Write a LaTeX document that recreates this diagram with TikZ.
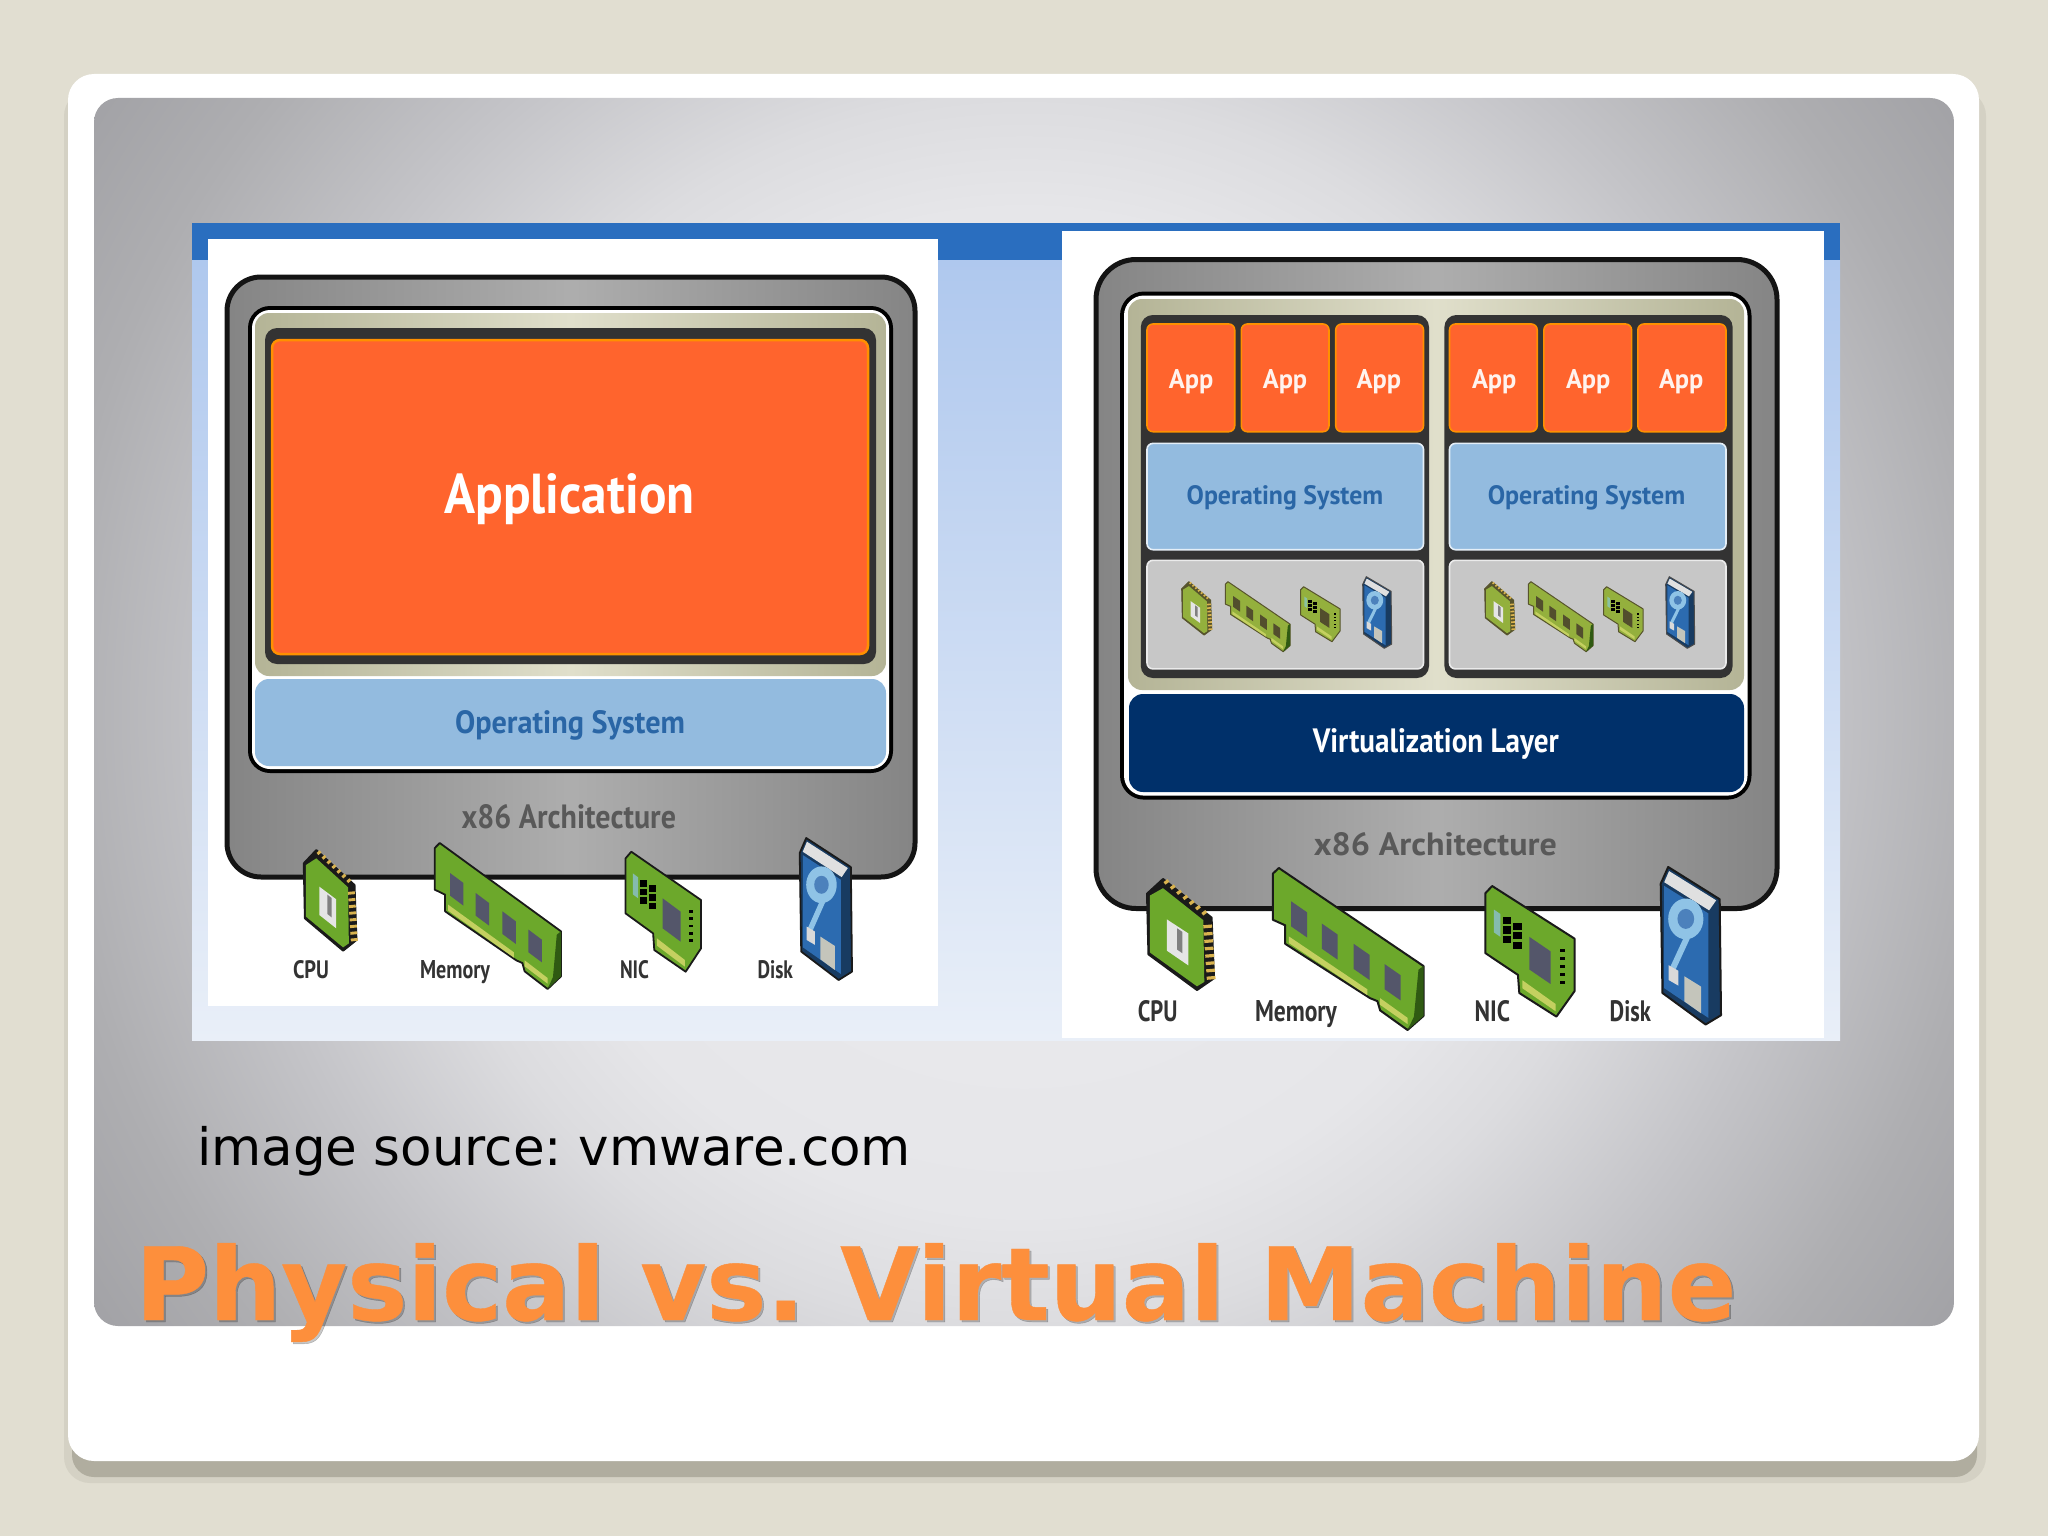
\documentclass[tikz,border=0pt]{standalone}
\usepackage{fontspec}
\usepackage{graphicx}
\newfontfamily\lblfont{PT Sans}
\newfontfamily\verd{DejaVu Sans}
\newfontfamily\titlefont[BoldFeatures={FakeBold=0.4}]{DejaVu Sans}
\frenchspacing
\definecolor{pagebg}{HTML}{E1DED1}
\definecolor{shadowA}{HTML}{D4D1C4}
\definecolor{shadowB}{HTML}{B0AD9F}
\definecolor{appor}{HTML}{FF642D}
\definecolor{apped}{HTML}{FF9000}
\definecolor{osblue}{HTML}{93BBDF}
\definecolor{ostext}{HTML}{2A66A6}
\definecolor{virt}{HTML}{00306A}
\definecolor{darkfr}{HTML}{333333}
\definecolor{titleor}{HTML}{FD8F3C}
\definecolor{pcb}{HTML}{6CA82B}
\definecolor{pcbd}{HTML}{2F5A12}
\definecolor{gold}{HTML}{D9B34F}
\definecolor{chipg}{HTML}{54566A}
\definecolor{contact}{HTML}{C4D060}
\definecolor{dblue}{HTML}{2C6BB0}
\definecolor{dlight}{HTML}{8FC3E6}
\definecolor{iconink}{HTML}{1A1A1A}
\definecolor{bandblue}{HTML}{2A6EBF}
\definecolor{skytop}{HTML}{AFC8EE}
\definecolor{skybot}{HTML}{E9EFF8}
\definecolor{oliveedge}{HTML}{B4B496}
\definecolor{olivemid}{HTML}{E0DFCB}
\definecolor{gZero}{HTML}{ECECEF}
\definecolor{gOne}{HTML}{E6E6E9}
\definecolor{gTwo}{HTML}{DCDCDF}
\definecolor{gThree}{HTML}{C4C4C8}
\definecolor{gFour}{HTML}{AEAEB1}
\definecolor{gFive}{HTML}{A2A2A6}
\pgfdeclareradialshading{panelglow}{\pgfpoint{0bp}{0bp}}{color(0bp)=(gZero); color(11.4bp)=(gOne); color(14bp)=(gTwo); color(18bp)=(gThree); color(22.1bp)=(gFour); color(25.3bp)=(gFive); color(50bp)=(gFive)}
\tikzset{
  lab/.style={inner sep=0pt,outer sep=0pt,anchor=base west},
  framegray/.style={draw=black!92,line width=5pt,left color=black!48,right color=black!48,middle color=black!32},
  oliveband/.style={left color=oliveedge,right color=oliveedge,middle color=olivemid},
  appbox/.style={fill=appor,draw=apped,rounded corners=6pt,line width=1.6pt},
  osbox/.style={fill=osblue,draw=white!75!osblue,rounded corners=6pt,line width=1.6pt},
  hwbox/.style={fill=black!22,draw=black!8,rounded corners=6pt,line width=1.6pt},
  iconline/.style={draw=iconink,line width=\iconlw,line join=round},
}
\newcommand{\lbl}[7]{\node[lab,text=#6] (#1) at (#2,#3) {\resizebox{#4pt}{#5pt}{\lblfont\bfseries #7}};}
\newcommand{\iconat}[8]{\begin{scope}[shift={(#4,#5)},xscale={(#6-#4)/#2},yscale={(#7-#5)/#3}]\def\iconlw{#8}#1\end{scope}}
\newcommand{\cpuicon}{\begin{scope}[shift={(-62,-60)}]
  \filldraw[iconline,fill=iconink] (62,100) -- (95,60) -- (195,165) -- (200,330) -- (165,362) -- (65,265) -- cycle;
  \fill[pcb] (68,105) -- (95,85) -- (178,172) -- (180,340) -- (165,352) -- (68,260) -- cycle;
  \foreach \i in {0,...,6}{\draw[gold,line width=1.6*\iconlw] ({98+\i*13},{72+\i*14}) -- ++(8,-8);}
  \foreach \i in {0,...,7}{\draw[gold,line width=1.6*\iconlw] ({178+\i*1},{190+\i*20}) -- ++(18,-2);}
  \fill[black!10] (103,170) -- (147,208) -- (147,295) -- (103,255) -- cycle;
  \fill[black!50] (124,194) -- (135,204) -- (135,262) -- (124,252) -- cycle;
\end{scope}}
\newcommand{\memicon}{\begin{scope}[shift={(-403,-40)}]
  \filldraw[iconline,fill=pcb] (405,55) -- (418,40) -- (735,305) -- (735,440) -- (700,478) -- (640,425) -- (634,400) -- (618,392) -- (432,245) -- (432,195) -- (405,180) -- cycle;
  \fill[pcbd] (724,315) -- (735,305) -- (735,440) -- (700,478) -- (714,442) -- cycle;
  \fill[contact] (440,225) -- (612,368) -- (612,384) -- (440,243) -- cycle;
  \fill[contact] (640,392) -- (700,445) -- (700,462) -- (640,410) -- cycle;
  \foreach \x/\y in {445/130,512/190,582/245,650/300}{
    \fill[chipg] (\x,\y) -- ({\x+35},{\y+30}) -- ({\x+35},{\y+98}) -- (\x,{\y+68}) -- cycle;}
\end{scope}}
\newcommand{\nicicon}{\begin{scope}[shift={(-900,-65)}]
  \filldraw[iconline,fill=pcb] (903,85) -- (918,65) -- (1100,210) -- (1100,355) -- (1060,425) -- (978,360) -- (975,310) -- (903,250) -- cycle;
  \fill[contact] (985,325) -- (1058,390) -- (1058,410) -- (985,347) -- cycle;
  \foreach \x/\s in {942/0,965/16}{\foreach \y in {150,176,202}{
    \fill[black] (\x,{\y+\s}) rectangle ++(18,20);}}
  \fill[chipg] (1000,205) -- (1047,245) -- (1047,335) -- (1000,295) -- cycle;
  \fill[dlight!70!pcb] (922,130) -- (936,142) -- (936,205) -- (922,193) -- cycle;
  \foreach \y in {240,262,284,306,328}{\fill[black] (1068,\y) rectangle ++(10,8);}
\end{scope}}
\newcommand{\diskicon}{\begin{scope}[shift={(-1358,-25)}]
  \filldraw[iconline,fill=black!45!dblue] (1358,70) -- (1375,25) -- (1492,112) -- (1495,425) -- (1460,450) -- (1362,365) -- cycle;
  \fill[black!12] (1377,36) -- (1484,115) -- (1468,142) -- (1366,66) -- cycle;
  \fill[dblue] (1366,76) -- (1466,150) -- (1466,432) -- (1366,352) -- cycle;
  \fill[dlight] (1415,165) ellipse [x radius=40,y radius=55];
  \fill[dblue!85!white] (1415,165) ellipse [x radius=19,y radius=27];
  \draw[dlight,line width=3*\iconlw] (1418,215) -- (1385,300);
  \fill[black!15] (1376,290) -- (1398,305) -- (1398,345) -- (1376,330) -- cycle;
  \fill[contact!30!black!30!white] (1412,320) -- (1450,348) -- (1450,420) -- (1412,388) -- cycle;
\end{scope}}
\newcommand{\smalliconset}[1]{
  \begin{scope}[shift={(#1,0)}]
  \colorlet{iconink}{olive!50!black}
  \colorlet{pcb}{olive!65!green!75!white}
  \colorlet{chipg}{black!55!olive}
  \iconat{\cpuicon}{138}{302}{1181.7}{581.7}{1211.7}{635}{1pt}
  \iconat{\memicon}{332}{438}{1225}{581.7}{1290}{651.7}{1pt}
  \iconat{\nicicon}{200}{360}{1300}{586.7}{1340}{641.7}{1pt}
  \colorlet{iconink}{black!70}
  \iconat{\diskicon}{137}{425}{1362.7}{576.7}{1391.7}{648.3}{1pt}
  \end{scope}}
\begin{document}
\begin{tikzpicture}[x=1pt,y=-1pt]
\useasboundingbox (0,0) rectangle (2048,1536);
\fill[pagebg] (0,0) rectangle (2048,1536);
% card and shadow
\fill[shadowA,rounded corners=26pt] (64,90) rectangle (1986,1483);
\fill[shadowB,rounded corners=22pt] (72,90) rectangle (1977,1477);
\fill[white,rounded corners=26pt] (68,74) rectangle (1979,1461);
\begin{scope}
  \clip[rounded corners=24pt] (94,98) rectangle (1954,1326);
  \path[shading=panelglow] (-76,-388) rectangle (2124,1812);
\end{scope}
% source image background
\fill[top color=skytop,bottom color=skybot] (192,260) rectangle (1840,1040);
\fill[bandblue] (192,223) rectangle (1840,260);
\fill[white] (208,239) rectangle (938,1006);
\fill[white] (1062,231) rectangle (1824,1038);
% left diagram
\path[framegray,rounded corners=34pt] (227,277) rectangle (915,877);
\fill[black,rounded corners=22pt] (248,306) rectangle (893,773);
\fill[white,rounded corners=18pt] (252,310) rectangle (889,769);
\path[oliveband,rounded corners=14pt] (255,313) rectangle (886,676);
\fill[osblue,rounded corners=14pt] (255,679) rectangle (886,766);
\fill[darkfr,rounded corners=12pt] (265,328) rectangle (876,664);
\draw[fill=appor,draw=apped,line width=2.5pt,rounded corners=8pt] (272,340) rectangle (868,654);
\lbl{application}{444.5}{513}{250}{40}{white}{Application}
\lbl{oslabelL}{455}{733}{230}{23}{ostext}{Operating System}
\lbl{archL}{461.5}{828}{214.5}{24}{black!65}{x86 Architecture}
\iconat{\cpuicon}{138}{302}{303.7}{850}{356.5}{950.7}{1.8pt}
\iconat{\memicon}{332}{438}{434}{843}{561}{989}{1.8pt}
\iconat{\nicicon}{200}{360}{624.4}{851.7}{701}{971.7}{1.8pt}
\iconat{\diskicon}{137}{425}{799.7}{838}{852}{980}{1.8pt}
\lbl{cpuL}{293}{978}{36}{18}{black!80}{CPU}
\lbl{memL}{420}{978}{70}{18}{black!80}{Memory}
\lbl{nicL}{620}{978}{29}{18}{black!80}{NIC}
\lbl{diskL}{757.5}{978}{35.5}{18}{black!80}{Disk}
% right diagram
\path[framegray,rounded corners=40pt] (1096,259.5) rectangle (1777,908.5);
\fill[black,rounded corners=24pt] (1120,291.5) rectangle (1751.5,799.6);
\fill[white,rounded corners=20pt] (1124,295.5) rectangle (1747.5,795.6);
\path[oliveband,rounded corners=14pt] (1128,299) rectangle (1744,690);
\fill[virt,rounded corners=14pt] (1129,694) rectangle (1744,792);
\fill[darkfr,rounded corners=12pt] (1140.8,315) rectangle (1429,678);
\fill[darkfr,rounded corners=12pt] (1444.4,315) rectangle (1732.6,678);
\foreach \x/\w in {1147/87.7,1241.3/87.7,1335.7/87.8,1449.5/87.7,1543.9/87.7,1637.8/88.2}{
  \path[appbox] (\x,324) rectangle ({\x+\w},431.7);}
\foreach \x in {1147,1449.5}{
  \path[osbox] (\x,443.4) rectangle ({\x+276.5},549.7);
  \path[hwbox] (\x,560.3) rectangle ({\x+276.5},668.9);}
\lbl{appa}{1168.9}{388}{44.4}{19}{white!92!appor}{App}
\lbl{appb}{1262.8}{388}{44.4}{19}{white!92!appor}{App}
\lbl{appc}{1356.7}{388}{44.4}{19}{white!92!appor}{App}
\lbl{appd}{1472}{388}{44.4}{19}{white!92!appor}{App}
\lbl{appe}{1566}{388}{44.4}{19}{white!92!appor}{App}
\lbl{appf}{1659}{388}{44.4}{19}{white!92!appor}{App}
\lbl{osa}{1186.7}{504.5}{196.5}{19}{ostext}{Operating System}
\lbl{osb}{1487.8}{504.5}{197.4}{19}{ostext}{Operating System}
\lbl{virtlabel}{1312.8}{752}{246}{24}{white}{Virtualization Layer}
\lbl{archR}{1313.8}{855}{243}{23}{black!65}{x86 Architecture}
\smalliconset{0}
\smalliconset{303}
\iconat{\cpuicon}{138}{302}{1147}{879}{1214}{990}{2pt}
\iconat{\memicon}{332}{438}{1272}{868}{1423.5}{1030}{2pt}
\iconat{\nicicon}{200}{360}{1484}{886}{1574.5}{1016.6}{2pt}
\iconat{\diskicon}{137}{425}{1660.7}{867}{1721}{1024.5}{2pt}
\lbl{cpuR}{1137.8}{1021}{39.7}{21}{black!80}{CPU}
\lbl{memR}{1255}{1021}{82}{21}{black!80}{Memory}
\lbl{nicR}{1474.5}{1021}{35.5}{21}{black!80}{NIC}
\lbl{diskR}{1609.7}{1021}{41.3}{21}{black!80}{Disk}
% captions
\node[lab,text=black] (source) at (197,1165) {\resizebox{714pt}{!}{\verd image source: vmware.com}};
\node[lab,text=black,opacity=0.22] (titleshadow) at (137,1322) {\resizebox{1600pt}{!}{\titlefont\bfseries Physical vs. Virtual Machine}};
\node[lab,text=titleor] (title) at (135,1320) {\resizebox{1600pt}{!}{\titlefont\bfseries Physical vs. Virtual Machine}};
\end{tikzpicture}
\end{document}
